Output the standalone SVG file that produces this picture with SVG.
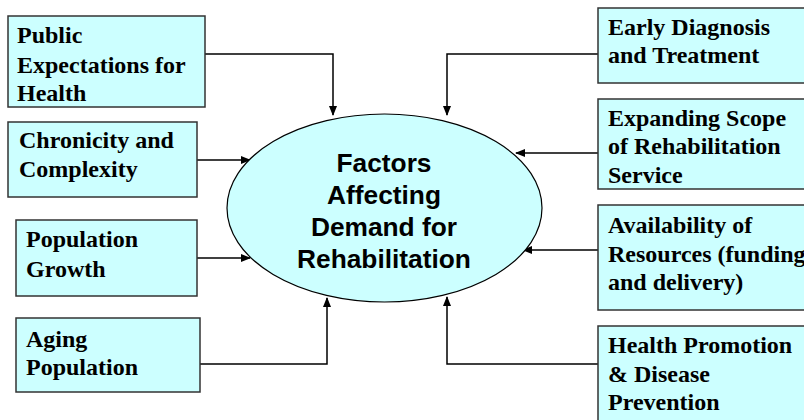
<svg xmlns="http://www.w3.org/2000/svg" width="804" height="420" viewBox="0 0 804 420">
<defs>
<marker id="ah" markerWidth="10" markerHeight="8" refX="9" refY="4" orient="auto" markerUnits="userSpaceOnUse">
<path d="M0,0 L10,4 L0,8 Z" fill="#000"/>
</marker>
<style>
.box{fill:#ccffff;stroke:#333;stroke-width:1.5}
.t{font-family:"Liberation Serif","Times New Roman",serif;font-weight:bold;font-size:24px;fill:#000}
.c{font-family:"Liberation Sans",Arial,sans-serif;font-weight:bold;font-size:26.3px;fill:#000;text-anchor:middle}
.ln{fill:none;stroke:#000;stroke-width:1.5;marker-end:url(#ah)}
</style>
</defs>
<rect width="804" height="420" fill="#fff"/>
<g id="connectors">
<path class="ln" d="M205,54 H333 V115"/>
<path class="ln" d="M197,160 H250"/>
<path class="ln" d="M197,258 H250"/>
<path class="ln" d="M200,364 H327 V298"/>
<path class="ln" d="M598,54 H447 V115"/>
<path class="ln" d="M598,153 H516"/>
<path class="ln" d="M598,250 H523"/>
<path class="ln" d="M598,364 H447 V297"/>
</g>
<g id="center">
<ellipse cx="384.5" cy="208" rx="157.5" ry="94" fill="#ccffff" stroke="#000" stroke-width="1.2"/>
<text class="c" x="384" y="172">Factors</text>
<text class="c" x="384" y="204">Affecting</text>
<text class="c" x="384" y="236">Demand for</text>
<text class="c" x="384" y="268">Rehabilitation</text>
</g>
<g id="public">
<rect class="box" x="8" y="16" width="197" height="91"/>
<text class="t" x="17" y="43">Public</text>
<text class="t" x="17" y="73">Expectations for</text>
<text class="t" x="17" y="101">Health</text>
</g>
<g id="chronicity">
<rect class="box" x="8" y="122" width="189" height="75"/>
<text class="t" x="19" y="148">Chronicity and</text>
<text class="t" x="19" y="177">Complexity</text>
</g>
<g id="growth">
<rect class="box" x="16" y="220" width="181" height="76"/>
<text class="t" x="26" y="247">Population</text>
<text class="t" x="26" y="277">Growth</text>
</g>
<g id="aging">
<rect class="box" x="16" y="318" width="184" height="74"/>
<text class="t" x="26" y="347">Aging</text>
<text class="t" x="26" y="375">Population</text>
</g>
<g id="early">
<rect class="box" x="598" y="8" width="220" height="75"/>
<text class="t" x="608" y="35">Early Diagnosis</text>
<text class="t" x="608" y="63">and Treatment</text>
</g>
<g id="scope">
<rect class="box" x="598" y="99" width="220" height="90"/>
<text class="t" x="608" y="126">Expanding Scope</text>
<text class="t" x="608" y="154">of Rehabilitation</text>
<text class="t" x="608" y="183">Service</text>
</g>
<g id="resources">
<rect class="box" x="598" y="205" width="220" height="105"/>
<text class="t" x="608" y="233">Availability of</text>
<text class="t" x="608" y="262">Resources (funding</text>
<text class="t" x="608" y="290">and delivery)</text>
</g>
<g id="promotion">
<rect class="box" x="598" y="326" width="220" height="100"/>
<text class="t" x="608" y="353">Health Promotion</text>
<text class="t" x="608" y="382">&amp; Disease</text>
<text class="t" x="608" y="410">Prevention</text>
</g>
</svg>
